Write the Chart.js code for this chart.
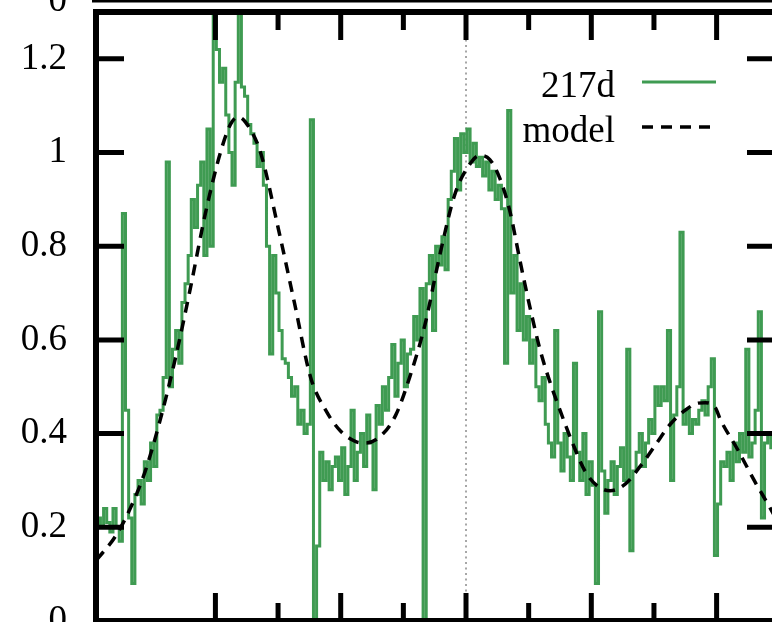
<!DOCTYPE html>
<html><head><meta charset="utf-8">
<script src="https://cdn.jsdelivr.net/npm/chart.js@4/dist/chart.umd.min.js"></script>
<style>
html,body{margin:0;padding:0;overflow:hidden;background:#fff;width:772px;height:622px}
#wrap{position:absolute;left:0;top:0;width:800px;height:660px}
</style></head><body>
<div id="wrap"><canvas id="c" width="800" height="660" style="width:800px;height:660px"></canvas></div>
<script>
// ---- data ----
const seriesLabels = ['217d', 'model'];
const binStart = -2.93;   // centre of first bin (x units, major tick = 1)
const binWidth = 0.025;
const profile217d = [
  0.22,0.20,0.24,0.21,0.19,0.24,0.20,0.17,0.87,0.45,
  0.22,0.08,0.27,0.30,0.25,0.34,0.30,0.38,0.33,0.44,
  0.45,0.52,0.98,0.50,0.58,0.62,0.55,0.68,0.72,0.78,
  0.90,0.84,0.93,0.98,0.78,1.05,0.80,1.30,1.22,1.15,
  1.18,1.08,1.00,0.93,1.15,1.30,1.14,1.12,1.06,1.04,
  1.02,0.97,1.00,0.93,0.80,0.57,0.78,0.70,0.62,0.56,
  0.55,0.52,0.48,0.50,0.42,0.45,0.40,0.42,1.07,0.00,
  0.16,0.36,0.30,0.34,0.28,0.33,0.35,0.30,0.37,0.27,
  0.33,0.45,0.30,0.36,0.40,0.33,0.44,0.38,0.28,0.46,
  0.42,0.50,0.45,0.52,0.59,0.48,0.55,0.60,0.50,0.57,
  0.58,0.65,0.60,0.71,0.00,0.72,0.78,0.62,0.80,0.76,
  0.82,0.75,0.90,0.96,1.03,0.92,1.04,1.00,1.05,0.98,
  1.02,0.97,0.99,0.95,0.98,0.92,0.96,0.90,0.93,0.88,
  0.55,1.09,0.70,0.78,0.62,0.72,0.60,0.65,0.55,0.60,
  0.50,0.47,0.52,0.42,0.38,0.35,0.62,0.38,0.32,0.40,
  0.35,0.30,0.55,0.36,0.30,0.40,0.27,0.34,0.29,0.08,
  0.66,0.32,0.23,0.30,0.34,0.27,0.33,0.37,0.30,0.58,
  0.15,0.32,0.36,0.40,0.33,0.38,0.43,0.40,0.50,0.46,
  0.50,0.47,0.62,0.30,0.44,0.50,0.83,0.42,0.45,0.40,
  0.43,0.42,0.45,0.47,0.44,0.50,0.56,0.14,0.25,0.34,
  0.33,0.36,0.30,0.38,0.34,0.40,0.36,0.58,0.35,0.38,
  0.45,0.66,0.22,0.38,0.40,0.37
];
const modelX = [-2.95,-2.80,-2.68,-2.56,-2.44,-2.32,-2.20,-2.08,-1.96,-1.88,-1.82,-1.76,-1.64,-1.50,-1.37,-1.24,-1.12,-1.00,-0.88,-0.80,-0.68,-0.56,-0.45,-0.33,-0.21,-0.09,0.03,0.11,0.19,0.27,0.35,0.43,0.51,0.59,0.67,0.75,0.85,0.95,1.05,1.15,1.27,1.39,1.51,1.63,1.75,1.85,1.91,1.99,2.03,2.17,2.30,2.43,2.47];
const modelY = [0.13,0.18,0.24,0.32,0.43,0.56,0.71,0.87,1.00,1.06,1.076,1.065,1.00,0.84,0.68,0.52,0.45,0.405,0.383,0.38,0.395,0.44,0.52,0.63,0.78,0.91,0.975,0.994,0.985,0.945,0.875,0.77,0.67,0.58,0.51,0.45,0.38,0.32,0.288,0.278,0.292,0.33,0.375,0.42,0.45,0.465,0.466,0.455,0.43,0.365,0.30,0.24,0.22];
const xMin = -2.953, xMax = 2.466;
const yMin = 0, yMax = 1.3;
const yMinorStep = 0.1, yMajorStep = 0.2;
const xMinorStep = 0.5, xMajorStep = 1;
const markerX = 0;
const upperPanelLabel = '0';

const GREEN = '#3f9b52';
const FONT = '"Liberation Serif", "Times New Roman", serif';

const isMult = (v, s) => Math.abs(v / s - Math.round(v / s)) < 1e-6;

const gnuplotFrame = {
  id: 'gnuplotFrame',
  beforeDatasetsDraw(chart) {
    const {ctx, chartArea: a, scales: {x}} = chart;
    const px = x.getPixelForValue(markerX);
    ctx.save();
    ctx.strokeStyle = '#8a8a8a';
    ctx.lineWidth = 1.5;
    ctx.setLineDash([2, 3.5]);
    ctx.beginPath(); ctx.moveTo(px, a.top); ctx.lineTo(px, a.bottom); ctx.stroke();
    ctx.restore();
  },
  afterDatasetsDraw(chart) {
    const {ctx, chartArea: a, scales: {x, y}} = chart;
    ctx.save();
    ctx.strokeStyle = '#000';
    ctx.lineCap = 'butt';
    // inward ticks
    ctx.lineWidth = 5;
    ctx.beginPath();
    y.ticks.forEach(t => {
      const v = t.value;
      if (!isMult(v, yMinorStep)) return;
      const len = isMult(v, yMajorStep) ? 28 : 18;
      const py = y.getPixelForValue(v);
      ctx.moveTo(a.left, py); ctx.lineTo(a.left + len, py);
      ctx.moveTo(a.right, py); ctx.lineTo(a.right - len, py);
    });
    x.ticks.forEach(t => {
      const v = t.value;
      if (!isMult(v, xMinorStep)) return;
      const len = isMult(v, xMajorStep) ? 28 : 18;
      const p = x.getPixelForValue(v);
      ctx.moveTo(p, a.bottom); ctx.lineTo(p, a.bottom - len);
      ctx.moveTo(p, a.top); ctx.lineTo(p, a.top + len);
    });
    ctx.stroke();
    // frame
    ctx.lineWidth = 6;
    ctx.strokeRect(a.left, a.top, a.right - a.left, a.bottom - a.top);
    // bottom edge of the panel above
    ctx.lineWidth = 4;
    ctx.beginPath(); ctx.moveTo(a.left - 4, 0.5); ctx.lineTo(chart.width, 0.5); ctx.stroke();
    ctx.fillStyle = '#000';
    ctx.font = '37px ' + FONT;
    ctx.textAlign = 'right';
    ctx.textBaseline = 'middle';
    ctx.fillText(upperPanelLabel, 67, 1);
    // key
    ctx.textBaseline = 'alphabetic';
    chart.data.datasets.forEach((ds, i) => {
      const base = 97 + i * 45;
      ctx.fillStyle = '#000';
      ctx.fillText(ds.label, 615, base);
      ctx.strokeStyle = ds.borderColor;
      ctx.lineWidth = ds.borderWidth;
      ctx.setLineDash(ds.borderDash || []);
      ctx.beginPath(); ctx.moveTo(642, base - 15); ctx.lineTo(716, base - 15); ctx.stroke();
    });
    ctx.restore();
  }
};

new Chart(document.getElementById('c'), {
  type: 'line',
  data: {
    datasets: [
      {
        label: seriesLabels[0],
        data: profile217d.map((v, i) => ({x: binStart + i * binWidth, y: v})),
        borderColor: GREEN, borderWidth: 3, stepped: 'middle',
        pointRadius: 0, fill: false, order: 1
      },
      {
        label: seriesLabels[1],
        data: modelX.map((xv, i) => ({x: xv, y: modelY[i]})),
        borderColor: '#000', borderWidth: 3.5, borderDash: [11, 8],
        cubicInterpolationMode: 'monotone', pointRadius: 0, fill: false, order: 0
      }
    ]
  },
  options: {
    responsive: false,
    animation: false,
    devicePixelRatio: 1,
    layout: {padding: {left: 0, top: 12, right: 25, bottom: 39}},
    plugins: {legend: {display: false}, tooltip: {enabled: false}},
    scales: {
      x: {
        type: 'linear', display: false, min: xMin, max: xMax,
        ticks: {stepSize: xMinorStep}
      },
      y: {
        type: 'linear', min: yMin, max: yMax,
        grid: {display: false, drawTicks: false},
        border: {display: false},
        ticks: {
          stepSize: yMinorStep, padding: 29, color: '#000',
          font: {family: FONT, size: 37},
          callback: v => isMult(v, yMajorStep) ? String(Math.round(v * 10) / 10) : ''
        },
        afterFit: s => { s.width = 96; s.paddingTop = 0; s.paddingBottom = 0; }
      }
    }
  },
  plugins: [gnuplotFrame]
});
</script>
</body></html>
